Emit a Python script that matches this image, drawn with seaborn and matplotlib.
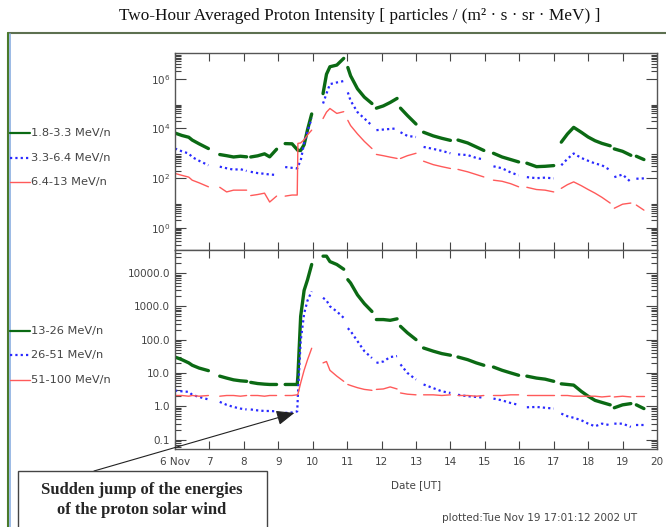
import numpy as np
import pandas as pd
import matplotlib
matplotlib.use("Agg")
import matplotlib.pyplot as plt
import seaborn as sns
from matplotlib.lines import Line2D
from matplotlib.patches import Rectangle
from matplotlib.ticker import FixedLocator, LogLocator, NullLocator, NullFormatter

NA = np.nan

# time axis in days of November 2002 (two-hour averages, gaps marked with NA)
days = [
    6.0, 6.2, 6.4, 6.5, 6.7, 6.97, 7.1,
    7.3, 7.5, 7.7, 7.9, 8.08, 8.13,
    8.2, 8.4, 8.6, 8.75, 8.95, 9.05,
    9.2, 9.4, 9.55, 9.57, 9.65, 9.75, 9.85, 9.97, 10.1,
    10.3, 10.4, 10.5, 10.7, 10.9, 10.97,
    11.02, 11.1, 11.3, 11.5, 11.72, 11.78,
    11.85, 12.05, 12.25, 12.45, 12.5,
    12.55, 12.75, 13.0, 13.1,
    13.22, 13.5, 13.75, 14.0, 14.1,
    14.22, 14.5, 14.75, 14.97, 15.1,
    15.25, 15.5, 15.75, 15.98, 16.1,
    16.22, 16.5, 16.75, 17.0, 17.1,
    17.22, 17.4, 17.58, 17.8, 18.0, 18.2, 18.4, 18.64, 18.7,
    18.76, 19.0, 19.24, 19.3,
    19.4, 19.62,
]

# upper panel channels
low_1 = [
    6500, 5200, 4400, 3400, 2400, 1550, NA,
    890, 800, 710, 760, 720, NA,
    710, 790, 950, 720, 1450, NA,
    2450, 2400, 1400, 1300, 1300, 2200, 8900, 38000, NA,
    2.5e5, 1.5e6, 3.0e6, 3.5e6, 6.5e6, NA,
    2.8e6, 1.3e6, 3.9e5, 1.8e5, 1.0e5, NA,
    6.5e4, 8.0e4, 1.1e5, 1.6e5, NA,
    6.5e4, 3.3e4, 1.5e4, NA,
    7000, 5000, 4000, 3300, NA,
    3400, 2600, 1800, 1300, NA,
    1000, 710, 560, 450, NA,
    400, 290, 300, 320, NA,
    2800, 6000, 11000, 7000, 4500, 3200, 2500, 2000, NA,
    1500, 1200, 830, NA,
    760, 560,
]
low_2 = [
    1550, 1200, 980, 700, 500, 330, NA,
    290, 250, 220, 230, 195, NA,
    180, 160, 150, 140, 135, NA,
    280, 260, 245, 300, 500, 2500, 8000, 25000, NA,
    1.0e5, 2.5e5, 6.0e5, 7.0e5, 8.0e5, NA,
    2.8e5, 1.3e5, 4.5e4, 2.5e4, 1.3e4, NA,
    8500, 9000, 9500, 10000, NA,
    7000, 5000, 4500, NA,
    1800, 1500, 1250, 1000, NA,
    900, 850, 650, 560, NA,
    300, 250, 170, 130, NA,
    110, 100, 105, 98, NA,
    330, 600, 980, 650, 500, 390, 330, 210, NA,
    110, 140, 70, NA,
    95, 98,
]
low_3 = [
    155, 130, 110, 83, 65, 45, NA,
    43, 28, 33, 33, 33, NA,
    20, 22, 25, 11, 19, NA,
    19, 21, 21, 2500, 2600, 3500, 5500, 8500, NA,
    2.5e4, 4.5e4, 6.3e4, 4.0e4, 4.7e4, NA,
    2.1e4, 1.3e4, 6000, 3000, 1550, NA,
    900, 800, 700, 620, NA,
    620, 800, 1000, NA,
    480, 350, 290, 245, NA,
    225, 180, 140, 112, NA,
    83, 75, 60, 45, NA,
    43, 35, 33, 28, NA,
    39, 55, 71, 50, 35, 25, 17, 10, NA,
    6.2, 9.0, 10, NA,
    8.3, 5.2,
]

# lower panel channels
high_1 = [
    30, 25, 20, 17, 14, 11.7, NA,
    8, 7, 6.2, 5.8, 5.6, NA,
    5.2, 4.8, 4.6, 4.5, 4.5, NA,
    4.5, 4.5, 4.5, 8, 500, 3000, 6300, 18000, NA,
    3.2e4, 3.2e4, 2.2e4, 1.8e4, 1.3e4, NA,
    6300, 5000, 2200, 1200, 700, NA,
    400, 400, 380, 420, NA,
    250, 160, 100, NA,
    56, 45, 38, 34, NA,
    30, 25, 20, 17, NA,
    15, 12, 10, 8.5, NA,
    8, 7, 6.5, 5.6, NA,
    4.7, 4.5, 4.3, 2.8, 2.0, 1.5, 1.3, 1.1, NA,
    0.9, 1.1, 1.2, NA,
    1.1, 0.85,
]
high_2 = [
    2.95, 2.8, 2.7, 2.2, 1.9, 1.6, NA,
    1.35, 1.1, 0.95, 0.85, 0.8, NA,
    0.8, 0.75, 0.72, 0.72, 0.7, NA,
    0.63, 0.65, 0.7, 2.2, 90, 600, 1500, 2800, NA,
    1800, 1500, 1000, 700, 450, NA,
    220, 180, 90, 45, 28, NA,
    20, 22, 30, 32, NA,
    18, 10, 6.3, NA,
    4.5, 3.5, 2.8, 2.5, NA,
    2.2, 2.0, 1.9, 1.8, NA,
    1.7, 1.5, 1.25, 1.1, NA,
    0.93, 0.95, 0.9, 0.85, NA,
    0.6, 0.5, 0.45, 0.38, 0.3, 0.25, 0.3, 0.27, NA,
    0.3, 0.3, 0.24, NA,
    0.27, 0.27,
]
high_3 = [
    2.1, 2.1, 2.0, 2.1, 2.0, 2.1, NA,
    2.0, 2.1, 2.1, 2.0, 2.1, NA,
    2.1, 2.1, 2.0, 2.1, 2.1, NA,
    2.1, 2.1, 2.2, 2.3, 5, 12, 25, 55, NA,
    20, 22, 12, 8, 5.6, NA,
    4.5, 4.2, 3.6, 3.2, 3.0, NA,
    3.2, 3.3, 3.8, 3.3, NA,
    2.5, 2.3, 2.2, NA,
    2.2, 2.2, 2.1, 2.2, NA,
    2.1, 2.1, 2.0, 2.1, NA,
    2.1, 2.1, 2.2, 2.2, NA,
    2.2, 2.2, 2.2, 2.2, NA,
    2.1, 2.1, 2.0, 2.0, 2.0, 2.0, 1.9, 2.0, NA,
    1.9, 2.0, 1.9, NA,
    2.0, 2.0,
]

low_names = ["1.8-3.3 MeV/n", "3.3-6.4 MeV/n", "6.4-13 MeV/n"]
high_names = ["13-26 MeV/n", "26-51 MeV/n", "51-100 MeV/n"]
day_labels = ["6 Nov"] + [str(d) for d in range(7, 21)]

colors = ["#0b6a14", "#2a2aff", "#ff5a5a"]
widths = [2.4, 1.6, 1.0]
dash_styles = ["", (1, 1.4), ""]


def build_frame(names, series):
    """Long table with one row per point; a new segment starts after every gap."""
    rows = []
    for name, vals in zip(names, series):
        seg = 0
        for d, v in zip(days, vals):
            if np.isnan(v):
                seg += 1
                continue
            rows.append((d, v, name, f"{name}#{seg}"))
    return pd.DataFrame(rows, columns=["day", "flux", "channel", "seg"])


def draw_panel(ax, names, series):
    df = build_frame(names, series)
    sns.lineplot(
        data=df, x="day", y="flux", hue="channel", size="channel", style="channel",
        units="seg", estimator=None, sort=False, legend=False, ax=ax,
        palette=dict(zip(names, colors)),
        sizes=dict(zip(names, widths)),
        dashes=dict(zip(names, dash_styles)),
    )
    ax.set_yscale("log")
    ax.set_xlim(6, 20)
    ax.set_xticks(range(6, 21))
    ax.xaxis.set_minor_locator(NullLocator())
    ax.set_xlabel("")
    ax.set_ylabel("")
    ax.tick_params(which="both", direction="in", top=True, right=True,
                   colors="#444", labelcolor="#444", labelsize=7.5, width=0.8)
    ax.tick_params(which="major", length=8)
    ax.tick_params(which="minor", length=4)
    ax.tick_params(axis="x", which="major", length=6)
    for sp in ax.spines.values():
        sp.set_color("#555")
        sp.set_linewidth(1.0)


sns.set_style("ticks")
plt.rcParams["font.family"] = ["DejaVu Sans"]

W, H = 666, 527
fig = plt.figure(figsize=(W / 100, H / 100), dpi=100)

ax_top = fig.add_axes([175 / W, 1 - 250 / H, 482 / W, 197 / H])
ax_bot = fig.add_axes([175 / W, 1 - 449 / H, 482 / W, 199 / H])

draw_panel(ax_top, low_names, [low_1, low_2, low_3])
ax_top.set_ylim(0.13, 1.07e7)
ax_top.set_yticks([1, 1e2, 1e4, 1e6])
ax_top.set_yticklabels([r"$10^{0}$", r"$10^{2}$", r"$10^{4}$", r"$10^{6}$"])
ax_top.yaxis.set_minor_locator(FixedLocator(
    [m * 10.0 ** k for k in (-1, 0, 2, 4, 6) for m in range(2, 10)]))
ax_top.yaxis.set_minor_formatter(NullFormatter())
ax_top.tick_params(axis="x", labelbottom=False)

draw_panel(ax_bot, high_names, [high_1, high_2, high_3])
ax_bot.set_ylim(0.052, 4.9e4)
ax_bot.set_yticks([0.1, 1, 10, 100, 1000, 10000])
ax_bot.set_yticklabels(["0.1", "1.0", "10.0", "100.0", "1000.0", "10000.0"])
ax_bot.yaxis.set_minor_locator(LogLocator(base=10, subs=range(2, 10)))
ax_bot.yaxis.set_minor_formatter(NullFormatter())
ax_bot.set_xticklabels(day_labels)
ax_bot.tick_params(axis="x", pad=6)

# title and frame
fig.text(360 / W, 1 - 16 / H,
         "Two-Hour Averaged Proton Intensity [ particles / (m² · s · sr · MeV) ]",
         ha="center", va="center", fontsize=12.4, family="Liberation Serif", color="#111")
fig.add_artist(Line2D([8 / W, 1.0], [1 - 33 / H, 1 - 33 / H],
                      transform=fig.transFigure, color="#5d7050", lw=1.5))
fig.add_artist(Line2D([8 / W, 8 / W], [0, 1 - 33 / H],
                      transform=fig.transFigure, color="#4a7a2a", lw=1.5))
fig.add_artist(Line2D([10 / W, 10 / W], [0, 1 - 34 / H],
                      transform=fig.transFigure, color="#8aaee0", lw=1.2))

# legends at the left
legend_rows = [(low_names, [133, 158, 182]), (high_names, [331, 355, 380])]
for names, ys in legend_rows:
    for name, y, c, w, d in zip(names, ys, colors, widths, dash_styles):
        ls = (0, d) if d else "-"
        fig.add_artist(Line2D([10 / W, 30 / W], [1 - y / H, 1 - y / H],
                              transform=fig.transFigure, color=c,
                              lw=min(w, 1.6), linestyle=ls))
        fig.text(31 / W, 1 - y / H, name, ha="left", va="center",
                 fontsize=8.2, color="#444")

fig.text(416 / W, 1 - 485 / H, "Date [UT]", ha="center", va="center",
         fontsize=7.5, color="#444")
fig.text(540 / W, 1 - 518 / H, "plotted:Tue Nov 19 17:01:12 2002 UT",
         ha="center", va="center", fontsize=7.5, color="#444")

# annotation box with arrow
fig.add_artist(Rectangle((18 / W, -0.02), (267 - 18) / W, 0.02 + 1 - 471 / H,
                         transform=fig.transFigure, fill=False,
                         edgecolor="#444", lw=1.0))
fig.text(142 / W, 1 - 490 / H, "Sudden jump of the energies", ha="center",
         va="center", fontsize=12, fontweight="bold", family="Liberation Serif")
fig.text(142 / W, 1 - 510 / H, "of the proton solar wind", ha="center",
         va="center", fontsize=12, fontweight="bold", family="Liberation Serif")
ax_bot.annotate("", xy=(9.47, 0.63), xycoords="data",
                xytext=(94 / W, 1 - 471 / H), textcoords="figure fraction",
                annotation_clip=False,
                arrowprops=dict(arrowstyle="-|>,head_length=1.1,head_width=0.45",
                                color="#222", lw=0.8, shrinkA=0, shrinkB=0))

fig.savefig("out.png", dpi=100)
